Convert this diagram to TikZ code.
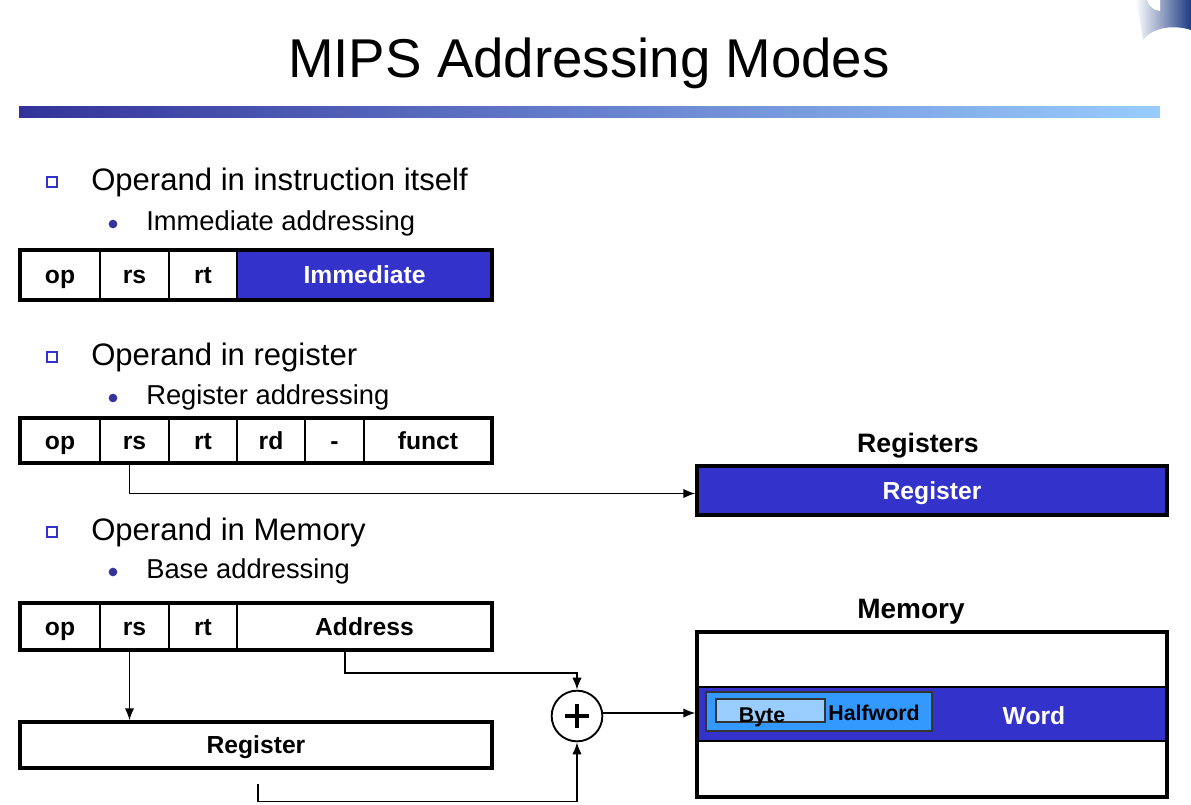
\documentclass[tikz,border=0pt]{standalone}
\usepackage{fontspec}
\setmainfont{Liberation Sans}
\usetikzlibrary{arrows.meta,calc}
\definecolor{mblue}{RGB}{51,51,204}
\definecolor{bardark}{RGB}{51,51,153}
\definecolor{barlight}{RGB}{153,204,255}
\definecolor{hwblue}{RGB}{51,153,255}
\definecolor{byteblue}{RGB}{153,204,255}
\definecolor{curl}{RGB}{30,60,130}
\newcommand\fld[8]{\node[cell, fill=#6, text=#7, minimum width={(#3-#2)*0.75pt}, minimum height={(#5-#4)*0.75pt}] (#1) at ({(#2+#3)/2},{(#4+#5)/2}) {#8};}
\newcommand\obox[5]{\node[outerbox, minimum width={(#3-#2)*0.75pt}, minimum height={(#5-#4)*0.75pt}] (#1) at ({(#2+#3)/2},{(#4+#5)/2}) {};}
\begin{document}
\begin{tikzpicture}[x=0.75pt,y=-0.75pt,
  cell/.style={draw, line width=1pt, inner sep=0pt, font=\fontsize{18.5}{18}\selectfont\bfseries, text height=13.2pt, text depth=0pt},
  outerbox/.style={draw, line width=2.4pt, inner sep=0pt},
  conn/.style={line width=1.3pt, -{Latex[length=9pt,width=7pt]}},
  head/.style={anchor=base west, inner sep=0pt, font=\fontsize{23.3}{24}\selectfont},
  subhead/.style={anchor=base west, inner sep=0pt, font=\fontsize{20.5}{22}\selectfont},
  sqb/.style={draw=mblue, line width=1.7pt, minimum size=7pt, inner sep=0pt},
  dotb/.style={circle, fill=bardark, minimum size=6.5pt, inner sep=0pt},
  lbl/.style={inner sep=0pt, font=\fontsize{20}{20}\selectfont\bfseries}]
\useasboundingbox (0,0) rectangle (1191,804);
% corner ornament
\shade[left color=white, right color=curl] (1135,0) -- (1191,0) -- (1191,30) .. controls (1172,24) and (1152,28) .. (1143,40) .. controls (1141,26) and (1139,12) .. (1135,0) -- cycle;
\fill[white] (1147,0) -- (1160,0) -- (1160,11) .. controls (1154,10) and (1150,8) .. (1147,0) -- cycle;
% title
\node[anchor=base, inner sep=0pt, font=\fontsize{41}{41}\selectfont] (title) at (589,77) {MIPS Addressing Modes};
\shade[left color=bardark, right color=barlight] (19,106) rectangle (1160,117);
% section 1
\node[sqb] (b1) at (52,182) {};
\node[head] (h1) at (91,190) {Operand in instruction itself};
\node[dotb] (d1) at (113,224) {};
\node[subhead] (s1) at (146,230) {Immediate addressing};
\fld{opA}{20}{100}{250}{300}{white}{black}{op}
\fld{rsA}{100}{169}{250}{300}{white}{black}{rs}
\fld{rtA}{169}{237}{250}{300}{white}{black}{rt}
\fld{immA}{237}{492}{250}{300}{mblue}{white}{Immediate}
\obox{boxA}{20}{492}{250}{300}
% section 2
\node[sqb] (b2) at (52,357) {};
\node[head] (h2) at (91,365) {Operand in register};
\node[dotb] (d2) at (113,398) {};
\node[subhead] (s2) at (146,404) {Register addressing};
\fld{opB}{20}{100}{418}{463}{white}{black}{op}
\fld{rsB}{100}{169}{418}{463}{white}{black}{rs}
\fld{rtB}{169}{237}{418}{463}{white}{black}{rt}
\fld{rdB}{237}{305}{418}{463}{white}{black}{rd}
\fld{xB}{305}{364}{418}{463}{white}{black}{-}
\fld{fnB}{364}{492}{418}{463}{white}{black}{funct}
\obox{boxB}{20}{492}{418}{463}
\node[lbl] (regslbl) at (918,446) {Registers};
\fld{regR}{697}{1167}{466}{515}{mblue}{white}{Register}
\obox{regRbox}{697}{1167}{466}{515}
\coordinate (rsBx) at ($(rsB.south)+(-5,0)$);
\draw[conn] (rsBx) |- ($(regRbox.west)+(0,3)$);
% section 3
\node[sqb] (b3) at (52,532) {};
\node[head] (h3) at (91,540) {Operand in Memory};
\node[dotb] (d3) at (113,572) {};
\node[subhead] (s3) at (146,578) {Base addressing};
\fld{opC}{20}{100}{603}{650}{white}{black}{op}
\fld{rsC}{100}{169}{603}{650}{white}{black}{rs}
\fld{rtC}{169}{237}{603}{650}{white}{black}{rt}
\fld{adC}{237}{492}{603}{650}{white}{black}{Address}
\obox{boxC}{20}{492}{603}{650}
\fld{regC}{20}{492}{722}{768}{white}{black}{Register}
\obox{regCbox}{20}{492}{722}{768}
% adder
\node[circle, draw, line width=1.4pt, minimum size=38pt, inner sep=0pt] (plus) at (577,716) {};
\draw[line width=2.4pt] ($(plus.center)+(-12,0)$) -- ($(plus.center)+(12,0)$);
\draw[line width=2.4pt] ($(plus.center)+(0,-12)$) -- ($(plus.center)+(0,12)$);
% memory
\node[lbl, font=\fontsize{21}{21}\selectfont\bfseries] (memlbl) at (911,612) {Memory};
\node[draw, line width=0.8pt, fill=mblue, minimum width={470*0.75pt}, minimum height={54*0.75pt}, inner sep=0pt] (band) at (932,714) {};
\obox{mem}{697}{1167}{632}{797}
\node[draw=black!80, line width=0.8pt, fill=hwblue, minimum width={226*0.75pt}, minimum height={39*0.75pt}, inner sep=0pt] (hw) at (819,711.5) {};
\node[draw=black!80, line width=0.8pt, fill=byteblue, minimum width={109*0.75pt}, minimum height={23*0.75pt}, inner sep=0pt] (byte) at (770.5,710.5) {};
\node[inner sep=0pt, font=\fontsize{16}{16}\selectfont\bfseries, text height=11.5pt, text depth=0pt] (bytetxt) at (762,715) {Byte};
\node[inner sep=0pt, font=\fontsize{16}{16}\selectfont\bfseries, text height=11.5pt, text depth=0pt] (hwtxt) at (874,713) {Halfword};
\node[inner sep=0pt, text=white, font=\fontsize{18.5}{18}\selectfont\bfseries, text height=13.2pt, text depth=0pt] (wordtxt) at (1034,716) {Word};
% connectors
\coordinate (rsCx) at ($(rsC.south)+(-5,0)$);
\draw[conn] (rsCx) -- (rsCx |- regCbox.north);
\coordinate (adCx) at ($(adC.south)+(-19.5,0)$);
\draw[conn] (adCx) -- ++(0,22) -| (plus.north);
\coordinate (regtail) at ($(regCbox.south)+(2,14)$);
\draw[conn] (regtail) -- ++(0,18) -| (plus.south);
\draw[conn] ($(plus.east)+(0,-3)$) -- ($(plus.east -| mem.west)+(0,-3)$);
\end{tikzpicture}
\end{document}
